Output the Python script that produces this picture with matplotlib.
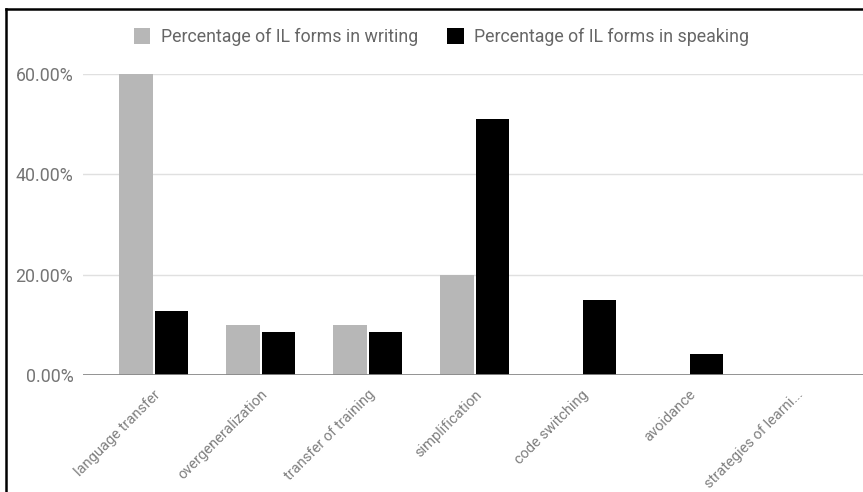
import numpy as np
import matplotlib
matplotlib.use("Agg")
from matplotlib import pyplot as plt
from matplotlib.lines import Line2D
from matplotlib.ticker import FuncFormatter

plt.rcParams['font.family'] = ['Roboto', 'DejaVu Sans']

categories = ["language transfer", "overgeneralization", "transfer of training",
              "simplification", "code switching", "avoidance", "strategies of learni..."]
writing = [60.0, 10.0, 10.0, 20.0, 0.0, 0.0, 0.0]
speaking = [12.77, 8.51, 8.51, 51.06, 14.89, 4.26, 0.0]
series_names = ["Percentage of IL forms in writing", "Percentage of IL forms in speaking"]
yticks = [0, 20, 40, 60]

fig = plt.figure(figsize=(8.63, 4.92), dpi=100)
ax = fig.add_axes([0.0962, 0.2378, 0.9038, 0.6118])

x = np.arange(len(categories))
w = 0.31
b1 = ax.bar(x - w / 2 - 0.01, writing, w, color="#b7b7b7", label=series_names[0], zorder=3)
b2 = ax.bar(x + w / 2 + 0.01, speaking, w, color="#000000", label=series_names[1], zorder=3)

ax.set_xlim(-0.66, 6.63)
ax.set_ylim(0, 60)
ax.set_yticks(yticks)
ax.yaxis.set_major_formatter(FuncFormatter(lambda v, p: f"{v:.2f}%"))
ax.grid(axis="y", color="#e0e0e0", linewidth=1, zorder=0)
ax.axhline(0, color="#8a8a8a", linewidth=2, zorder=4)
for s in ax.spines.values():
    s.set_visible(False)
ax.tick_params(axis="both", length=0)
ax.tick_params(axis="y", labelsize=12.8, labelcolor="#757575", pad=7)
ax.set_xticks(x)
ax.set_xticklabels(categories, rotation=45, ha="right", rotation_mode="anchor",
                   fontsize=10.5, color="#808080")
ax.tick_params(axis="x", pad=9)
ax.patch.set_alpha(0)
for bar in list(b1) + list(b2):
    bar.set_clip_on(False)

fig.legend(handles=[b1, b2], loc="center", bbox_to_anchor=(0.5116, 0.925), ncol=2,
           frameon=False, fontsize=12.8, labelcolor="#666666", handlelength=0.95,
           handleheight=0.95, handletextpad=0.6, columnspacing=1.6)

# picture border (left and top)
fig.add_artist(Line2D([0.0064, 0.0064], [0, 0.982], transform=fig.transFigure,
                      color="black", linewidth=1.8))
fig.add_artist(Line2D([0.0064, 1.0], [0.982, 0.982], transform=fig.transFigure,
                      color="black", linewidth=1.8))

fig.savefig("out.png", dpi=100)
